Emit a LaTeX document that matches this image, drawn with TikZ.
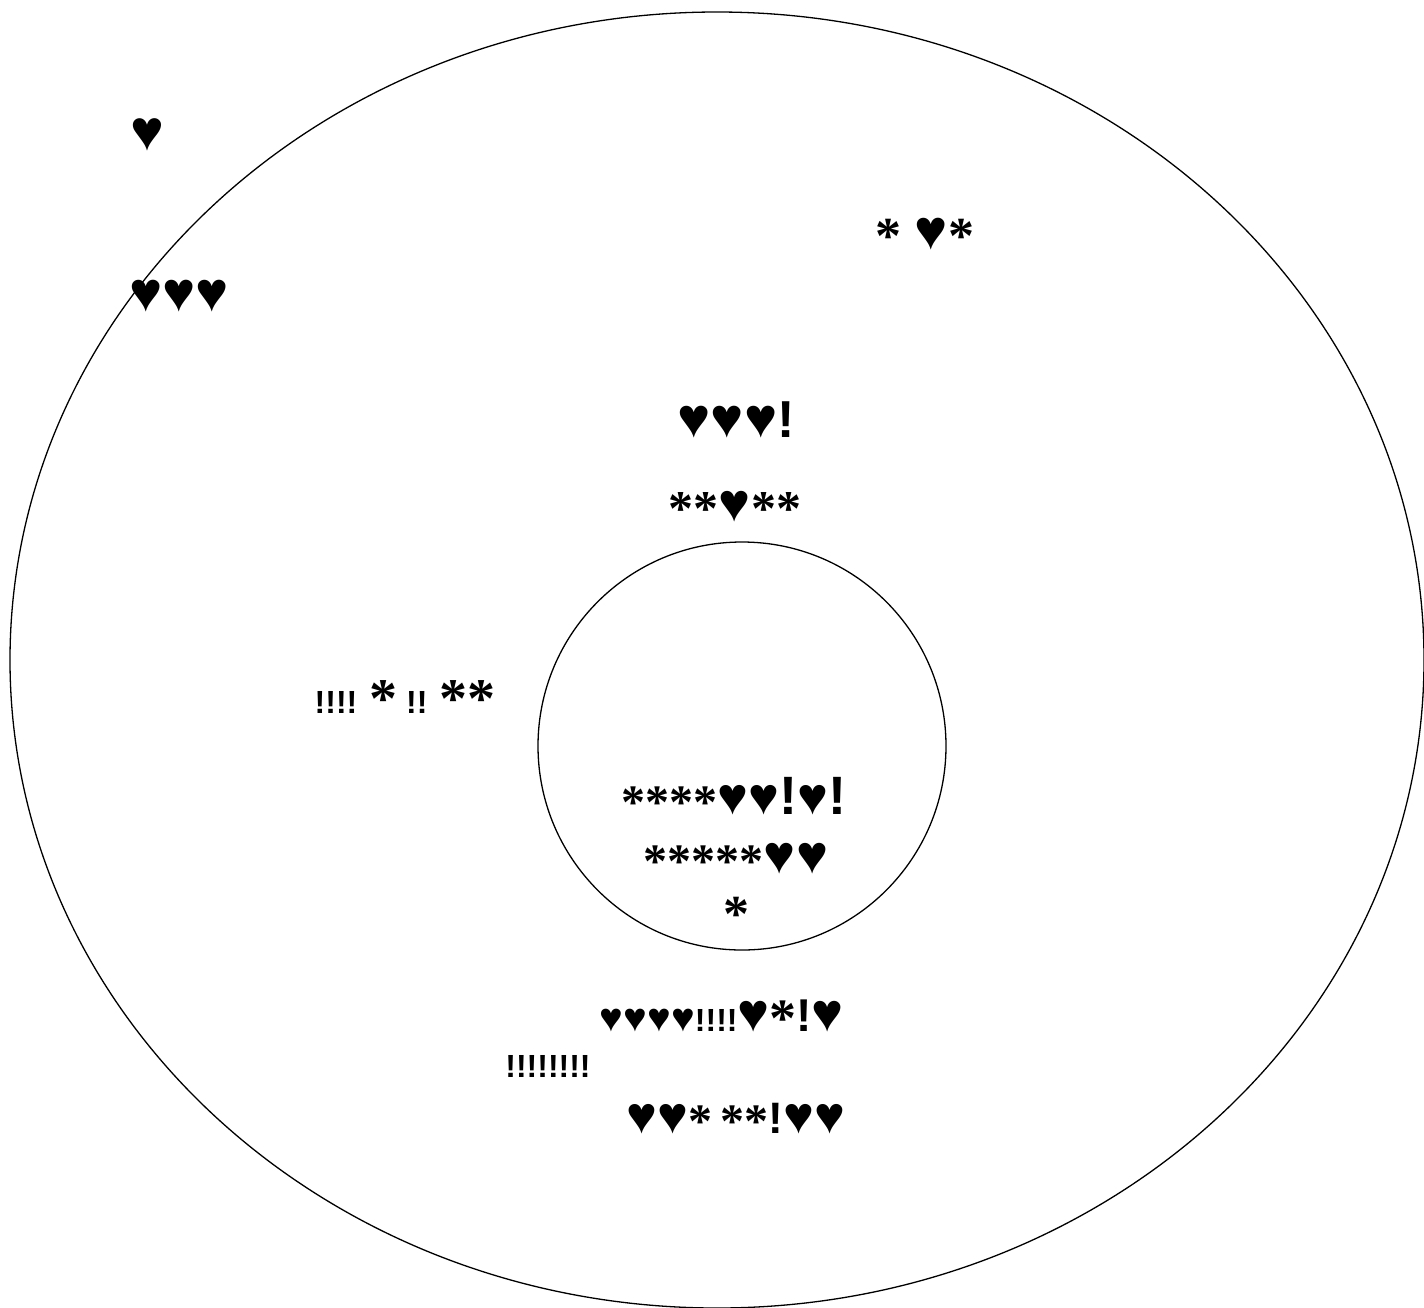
\documentclass[tikz,border=0pt]{standalone}
\usepackage{fontspec}
\usetikzlibrary{shapes.geometric}
\setmainfont{Liberation Sans}
\newfontfamily\serifb{Liberation Serif}
\begin{document}
\begin{tikzpicture}[x=1pt,y=-1pt,
  lbl/.style={inner sep=0pt, font=\bfseries},
  ring/.style={draw=black, line width=1.3pt}]
\useasboundingbox (0,0) rectangle (1424,1307);
\node[ring, ellipse, minimum width=1414pt, minimum height=1296pt, inner sep=0pt] (outer) at (717,660) {};
\node[ring, circle, minimum size=408pt, inner sep=0pt] (inner) at (742,746) {};
\newcommand{\fs}[1]{\fontsize{#1}{#1}\selectfont}
\newcommand{\st}[1]{{\serifb\bfseries\fs{#1}\raisebox{-0.08em}{*}}}
\node[lbl] (t1) at (147,135) {\fs{57}♥};
\node[lbl] (t2) at (179,296) {\fs{56}♥♥♥};
\node[lbl] (t3) at (925,236) {\st{52}\fs{46} \fs{56}♥\st{52}};
\node[lbl] (t4) at (736,420) {\fs{56}♥♥♥\fs{52}!};
\node[lbl] (t5) at (735,508) {\st{50}\st{50}\fs{54}♥\st{50}\st{50}};
\node[lbl] (t6) at (405,699) {\fs{32}!!!! \st{56} \fs{32}!! \st{56}\st{56}};
\node[lbl] (t7) at (734,798) {\st{48}\st{48}\st{48}\st{48}\fs{52}♥♥\fs{54}!\fs{52}♥\fs{54}!};
\node[lbl] (t8) at (736,860) {\st{48}\st{48}\st{48}\st{48}\st{48}\fs{54}♥♥};
\node[lbl] (t9) at (736,914) {\st{52}};
\node[lbl] (t10) at (722,1018) {\fs{40}♥♥♥♥\fs{32}!!!!\fs{54}♥\st{54}\fs{46}!\fs{54}♥};
\node[lbl] (t11) at (548,1066) {\fs{32}!!!!!!!!};
\node[lbl] (t12) at (736,1120) {\fs{52}♥♥\st{48}\fs{30} \st{48}\st{48}\fs{44}!\fs{52}♥♥};
\end{tikzpicture}
\end{document}
